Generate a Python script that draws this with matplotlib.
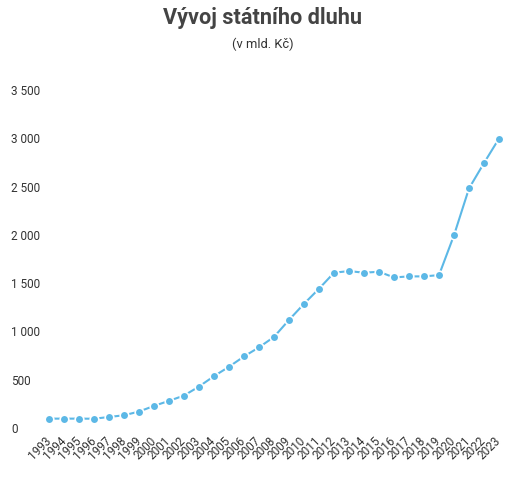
import matplotlib
matplotlib.use('Agg')
import matplotlib.pyplot as plt
import matplotlib.ticker as mticker
from matplotlib.transforms import ScaledTranslation

plt.rcParams['font.family'] = ['Roboto', 'DejaVu Sans']

# roky a státní dluh (mld. Kč)
years = list(range(1993, 2024))
debt = [97, 97, 97, 96, 114, 132, 170, 229, 281, 336, 429, 537, 634, 741, 835,
        943, 1119, 1286, 1442, 1608, 1625, 1608, 1618, 1559, 1570, 1570, 1583,
        1996, 2481, 2744, 2997]
y_ticks = [0, 500, 1000, 1500, 2000, 2500, 3000, 3500]

LINE_COLOR = '#5cb8e6'
TEXT_COLOR = '#333333'

fig = plt.figure(figsize=(5.25, 4.79), dpi=100)
# 1993 -> x=49px, 2023 -> x=499px ; 0 -> y=428px, 3500 -> y=90px
ax = fig.add_axes([41 / 525, 1 - 428 / 479, 466 / 525, 338 / 479])

ax.plot(years, debt, color=LINE_COLOR, lw=1.5, marker='o', ms=6.2,
        mfc=LINE_COLOR, mec='white', mew=1.2, clip_on=False, zorder=3)

ax.set_ylim(0, 3500)
ax.set_xlim(1993 - 8 / 15, 2023 + 8 / 15)
ax.set_yticks(y_ticks)
ax.yaxis.set_major_formatter(mticker.FuncFormatter(lambda v, p: f'{int(v):,}'.replace(',', ' ')))
ax.set_xticks(years)
ax.set_xticklabels([str(y) for y in years], rotation=45, ha='right', va='center',
                   rotation_mode='anchor', fontsize=8.5, color=TEXT_COLOR)
shift = ScaledTranslation(3 / 100, 0, fig.dpi_scale_trans)
for lbl in ax.get_xticklabels():
    lbl.set_transform(lbl.get_transform() + shift)

for lbl in ax.get_yticklabels():
    lbl.set_horizontalalignment('left')
    lbl.set_fontsize(8.5)
    lbl.set_color(TEXT_COLOR)
ax.tick_params(axis='y', length=0, pad=21.6)
ax.tick_params(axis='x', length=0, pad=8)

for s in ax.spines.values():
    s.set_visible(False)

fig.text(0.5, 1 - 18 / 479, 'Vývoj státního dluhu', ha='center', va='center',
         fontsize=15.6, fontweight='bold', color='#444444')
fig.text(0.5, 1 - 44 / 479, '(v mld. Kč)', ha='center', va='center',
         fontsize=9.3, color=TEXT_COLOR)

fig.savefig('out.png', dpi=100)
